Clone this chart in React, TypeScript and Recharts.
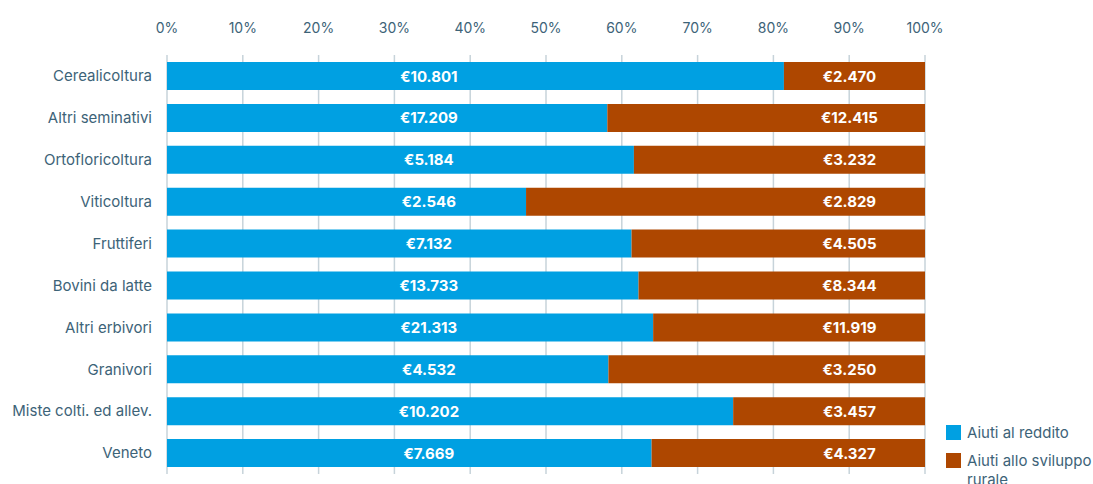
import { BarChart, Bar, XAxis, YAxis, CartesianGrid, LabelList, Legend } from 'recharts';

const categories = [
  'Cerealicoltura',
  'Altri seminativi',
  'Ortofloricoltura',
  'Viticoltura',
  'Fruttiferi',
  'Bovini da latte',
  'Altri erbivori',
  'Granivori',
  'Miste colti. ed allev.',
  'Veneto',
];
const aiutiReddito = [10801, 17209, 5184, 2546, 7132, 13733, 21313, 4532, 10202, 7669];
const aiutiSviluppo = [2470, 12415, 3232, 2829, 4505, 8344, 11919, 3250, 3457, 4327];
const percentTicks = [0, 0.1, 0.2, 0.3, 0.4, 0.5, 0.6, 0.7, 0.8, 0.9, 1];

const BLUE = '#00a0e2';
const BROWN = '#ae4700';
const TEXT = '#3d6378';
const GRID = '#c7d3da';
const FONT = 'Inter, "Noto Sans", sans-serif';

const W = 1093;
const H = 484;
const MARGIN = { top: 25, right: 21, bottom: 10, left: 0 };
const Y_AXIS_W = 167;
const LEGEND_W = 147;
const PLOT_W = W - Y_AXIS_W - MARGIN.right - LEGEND_W;

const data = categories.map((name, i) => ({
  name,
  reddito: aiutiReddito[i],
  sviluppo: aiutiSviluppo[i],
}));

const euro = (v: any) => '€' + String(v).replace(/\B(?=(\d{3})+(?!\d))/g, '.');

// values sit in two fixed columns, not in the middle of each segment
const columnLabel = (side: 'left' | 'right') => (props: any) => {
  const x = Number(props.x);
  const y = Number(props.y);
  const w = Number(props.width);
  const h = Number(props.height);
  const cx = side === 'left' ? x + PLOT_W * 0.3455 : x + w - 75.5;
  return (
    <text
      x={cx}
      y={y + h / 2}
      textAnchor="middle"
      dominantBaseline="central"
      fill="#fff"
      style={{ fontFamily: FONT, fontSize: 15, fontWeight: 700 }}
    >
      {euro(props.value)}
    </text>
  );
};

const legendItems = [
  { label: 'Aiuti al reddito', color: BLUE },
  { label: 'Aiuti allo sviluppo rurale', color: BROWN },
];

function LegendBox() {
  return (
    <div style={{ fontFamily: FONT, fontSize: 15, color: TEXT, width: LEGEND_W }}>
      {legendItems.map((it) => (
        <div key={it.label} style={{ display: 'flex', alignItems: 'flex-start', marginBottom: 9 }}>
          <span
            style={{ width: 15, height: 15, background: it.color, flex: '0 0 15px', marginRight: 6, marginTop: 2 }}
          />
          <span style={{ lineHeight: '19px' }}>{it.label}</span>
        </div>
      ))}
    </div>
  );
}

export default function App() {
  return (
    <div style={{ position: 'absolute', left: 0, top: 0, width: W, height: H, background: '#fff' }}>
      <BarChart
        width={W}
        height={H}
        data={data}
        layout="vertical"
        stackOffset="expand"
        barSize={28}
        margin={MARGIN}
      >
        <CartesianGrid horizontal={false} stroke={GRID} strokeWidth={1.5} />
        <XAxis
          type="number"
          orientation="top"
          domain={[0, 1]}
          ticks={percentTicks}
          tickFormatter={(v) => `${Math.round(v * 100)}%`}
          axisLine={false}
          tickLine={false}
          tickSize={0}
          tickMargin={22}
          tick={{ fill: TEXT, fontSize: 14, fontFamily: FONT }}
        />
        <YAxis
          type="category"
          dataKey="name"
          width={Y_AXIS_W}
          axisLine={false}
          tickLine={false}
          tickSize={0}
          tickMargin={15}
          tick={{ fill: TEXT, fontSize: 15, fontFamily: FONT }}
        />
        <Legend
          layout="vertical"
          align="right"
          verticalAlign="bottom"
          content={() => <LegendBox />}
          wrapperStyle={{ left: 946, top: 423, right: 'auto', bottom: 'auto', width: LEGEND_W }}
        />
        <Bar dataKey="reddito" stackId="a" fill={BLUE} isAnimationActive={false}>
          <LabelList dataKey="reddito" content={columnLabel('left')} />
        </Bar>
        <Bar dataKey="sviluppo" stackId="a" fill={BROWN} isAnimationActive={false}>
          <LabelList dataKey="sviluppo" content={columnLabel('right')} />
        </Bar>
      </BarChart>
    </div>
  );
}
